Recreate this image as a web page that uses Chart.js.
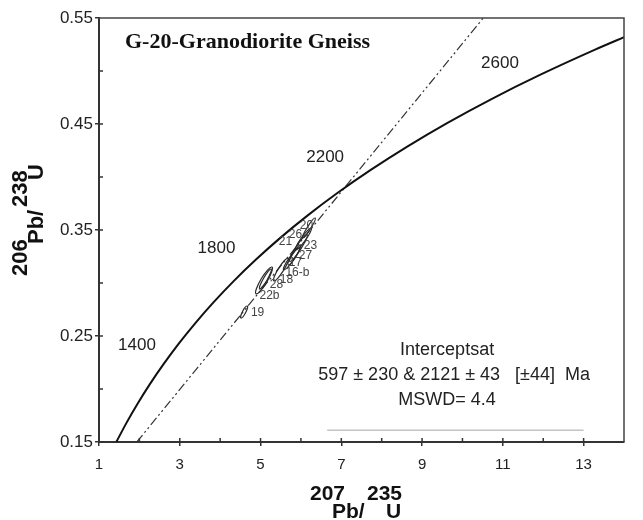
<!DOCTYPE html>
<html><head><meta charset="utf-8">
<script src="https://cdn.jsdelivr.net/npm/chart.js@4/dist/chart.umd.min.js"></script>
<style>html,body{margin:0;padding:0;background:#fff;}canvas{display:block;}</style>
</head><body>
<canvas id="c" width="643" height="520"></canvas>
<script>
// ---- data ----
// Concordia curve (207Pb/235U , 206Pb/238U)
const concordiaX = [1.429,1.677,1.955,2.260,2.598,2.970,3.381,3.834,4.335,4.887,5.496,6.169,6.911,7.729,8.633,9.630,10.730,11.944,13.284,14.004];
const concordiaY = [0.1500,0.1678,0.1861,0.2046,0.2234,0.2426,0.2620,0.2817,0.3018,0.3221,0.3428,0.3638,0.3851,0.4067,0.4287,0.4511,0.4738,0.4968,0.5202,0.5320];
// Age labels on concordia (Ma)
const ageLabels = ['1400','1800','2200','2600'];
const ageLabelX = [1.94, 3.91, 6.60, 10.93];
const ageLabelY = [0.2415, 0.333, 0.419, 0.5075];
// Discordia line
const discordiaX = [1.937, 10.516];
const discordiaY = [0.150, 0.550];
// Grey rule
const ruleX = [6.65, 13.0];
const ruleY = [0.161, 0.161];
// Error ellipses: centre, half extent in x and y, correlation
const ellX   = [4.593, 5.086, 5.120, 5.506, 5.765, 5.840, 5.938, 6.062, 6.198];
const ellY   = [0.2726, 0.3024, 0.3038, 0.3127, 0.3227, 0.3264, 0.3330, 0.3415, 0.3519];
const ellSx  = [0.086, 0.21, 0.15, 0.185, 0.20, 0.16, 0.22, 0.20, 0.16];
const ellSy  = [0.0057, 0.0127, 0.0095, 0.0108, 0.0104, 0.0095, 0.0127, 0.0104, 0.0094];
const ellRho = [0.85, 0.90, 0.93, 0.91, 0.93, 0.94, 0.94, 0.94, 0.95];
// Spot labels
const spotLabels = ['20','26','21','23','27','17','16-b','18','28','22b','19'];
const spotX = [6.136, 5.864, 5.617, 6.235, 6.111, 5.864, 5.914, 5.642, 5.395, 5.222, 4.926];
const spotY = [0.3538, 0.3453, 0.3387, 0.3349, 0.3255, 0.3189, 0.3094, 0.3028, 0.2981, 0.2877, 0.2717];
// Text
const chartTitle = 'G-20-Granodiorite Gneiss';
const annotText = ['Interceptsat', '597 \u00b1 230 & 2121 \u00b1 43   [\u00b144]  Ma', 'MSWD= 4.4'];
const xTickLabels = ['1','3','5','7','9','11','13'];
const yTickLabels = ['0.15','0.25','0.35','0.45','0.55'];

// ---- layout / style ----
const SANS = '"Liberation Sans", Arial, sans-serif';
const SERIF = '"Liberation Serif", "Times New Roman", serif';
const annotPos = {x: 9.62, y: [0.2368, 0.2132, 0.1896]};

const toPts = (xs, ys) => xs.map((x, i) => ({x: x, y: ys[i]}));

const decor = {
  id: 'decor',
  afterDatasetsDraw(chart) {
    const {ctx, chartArea: a, scales: {x, y}} = chart;
    ctx.save();
    // ellipses
    ctx.save();
    ctx.beginPath(); ctx.rect(a.left, a.top, a.right - a.left, a.bottom - a.top); ctx.clip();
    const kx = x.getPixelForValue(1) - x.getPixelForValue(0);
    const ky = y.getPixelForValue(1) - y.getPixelForValue(0);
    ctx.strokeStyle = '#2a2a2a'; ctx.lineWidth = 1.2;
    ellX.forEach((ex, i) => {
      const sx = ellSx[i] * kx, sy = ellSy[i] * ky;
      const A = sx * sx, C = sy * sy, B = ellRho[i] * sx * sy;
      const th = 0.5 * Math.atan2(2 * B, A - C);
      const m = (A + C) / 2, d = Math.sqrt(((A - C) / 2) ** 2 + B * B);
      ctx.beginPath();
      ctx.ellipse(x.getPixelForValue(ex), y.getPixelForValue(ellY[i]), Math.sqrt(m + d), Math.sqrt(Math.max(m - d, 0.5)), th, 0, Math.PI * 2);
      ctx.stroke();
    });
    ctx.restore();
    // spot labels
    ctx.fillStyle = '#444'; ctx.font = '12px ' + SANS;
    ctx.textAlign = 'center'; ctx.textBaseline = 'middle';
    spotLabels.forEach((t, i) => ctx.fillText(t, x.getPixelForValue(spotX[i]), y.getPixelForValue(spotY[i])));
    // age labels
    ctx.fillStyle = '#222'; ctx.font = '17px ' + SANS;
    ageLabels.forEach((t, i) => ctx.fillText(t, x.getPixelForValue(ageLabelX[i]), y.getPixelForValue(ageLabelY[i])));
    // annotation
    ctx.font = '18px ' + SANS;
    annotText.forEach((t, i) => ctx.fillText(t, x.getPixelForValue(annotPos.x) + (i === 1 ? 7 : 0), y.getPixelForValue(annotPos.y[i])));
    // title
    ctx.font = 'bold 22px ' + SERIF; ctx.textAlign = 'left'; ctx.textBaseline = 'alphabetic';
    ctx.fillStyle = '#111';
    ctx.fillText(chartTitle, a.left + 26, a.top + 30);
    // top/right frame
    ctx.strokeStyle = '#444'; ctx.lineWidth = 1.5;
    ctx.beginPath(); ctx.moveTo(a.left, a.top); ctx.lineTo(a.right, a.top); ctx.lineTo(a.right, a.bottom); ctx.stroke();
    // inside tick marks
    ctx.strokeStyle = '#333'; ctx.lineWidth = 1.5;
    x.ticks.forEach(t => {
      const px = x.getPixelForValue(t.value);
      if (px <= a.left + 1 || px >= a.right - 1) return;
      ctx.beginPath(); ctx.moveTo(px, a.bottom); ctx.lineTo(px, a.bottom - 4); ctx.stroke();
    });
    y.ticks.forEach(t => {
      const py = y.getPixelForValue(t.value);
      if (py <= a.top + 1 || py >= a.bottom - 1) return;
      ctx.beginPath(); ctx.moveTo(a.left, py); ctx.lineTo(a.left + 4, py); ctx.stroke();
    });
    // axis titles
    ctx.fillStyle = '#111'; ctx.font = 'bold 21px ' + SANS; ctx.textAlign = 'left'; ctx.textBaseline = 'alphabetic';
    ctx.fillText('207', 310, 500);
    ctx.fillText('Pb/', 332, 518);
    ctx.fillText('235', 367, 500);
    ctx.fillText('U', 386, 518);
    ctx.save();
    ctx.rotate(-Math.PI / 2);
    ctx.font = 'bold 22px ' + SANS;
    ctx.fillText('206', -276, 27);
    ctx.fillText('Pb/', -244, 43);
    ctx.fillText('238', -207, 27);
    ctx.fillText('U', -180, 43);
    ctx.restore();
    ctx.restore();
  }
};

const isMajorX = v => Math.abs(v % 2 - 1) < 1e-6 && v <= 13;
const isMajorY = v => Math.abs(Math.round(v * 100) % 10 - 5) < 1e-6;

new Chart(document.getElementById('c'), {
  type: 'scatter',
  data: {
    datasets: [
      {data: toPts(concordiaX, concordiaY), showLine: true, borderColor: '#111', borderWidth: 2, pointRadius: 0, cubicInterpolationMode: 'monotone', fill: false},
      {data: toPts(discordiaX, discordiaY), showLine: true, borderColor: '#333', borderWidth: 1.2, borderDash: [9, 3, 2, 3, 2, 3], pointRadius: 0, fill: false},
      {data: toPts(ruleX, ruleY), showLine: true, borderColor: '#c4c4c4', borderWidth: 1.5, pointRadius: 0, fill: false}
    ]
  },
  options: {
    responsive: false, animation: false, devicePixelRatio: 1,
    layout: {padding: {left: 0, top: 18, right: 19, bottom: 0}},
    plugins: {legend: {display: false}, tooltip: {enabled: false}},
    scales: {
      x: {
        type: 'linear', min: 1, max: 14,
        afterFit: s => { s.height = 78; },
        border: {display: true, color: '#333', width: 2},
        grid: {drawOnChartArea: false, drawTicks: true, tickLength: 4, lineWidth: 1.5,
               color: c => (c.tick && isMajorX(c.tick.value)) ? '#333' : 'rgba(0,0,0,0)'},
        ticks: {stepSize: 1, autoSkip: false, maxRotation: 0, padding: 10, color: '#222',
                font: {family: SANS, size: 15},
                callback: v => isMajorX(v) ? xTickLabels[(v - 1) / 2] : ''}
      },
      y: {
        type: 'linear', min: 0.15, max: 0.55,
        afterFit: s => { s.width = 99; },
        border: {display: true, color: '#333', width: 2},
        grid: {drawOnChartArea: false, drawTicks: true, tickLength: 4, lineWidth: 1.5,
               color: c => (c.tick && isMajorY(c.tick.value)) ? '#333' : 'rgba(0,0,0,0)'},
        ticks: {stepSize: 0.05, autoSkip: false, padding: 2, color: '#222',
                font: {family: SANS, size: 17},
                callback: v => isMajorY(v) ? yTickLabels[Math.round((v - 0.15) * 10)] : ''}
      }
    }
  },
  plugins: [decor]
});
</script>
</body></html>
